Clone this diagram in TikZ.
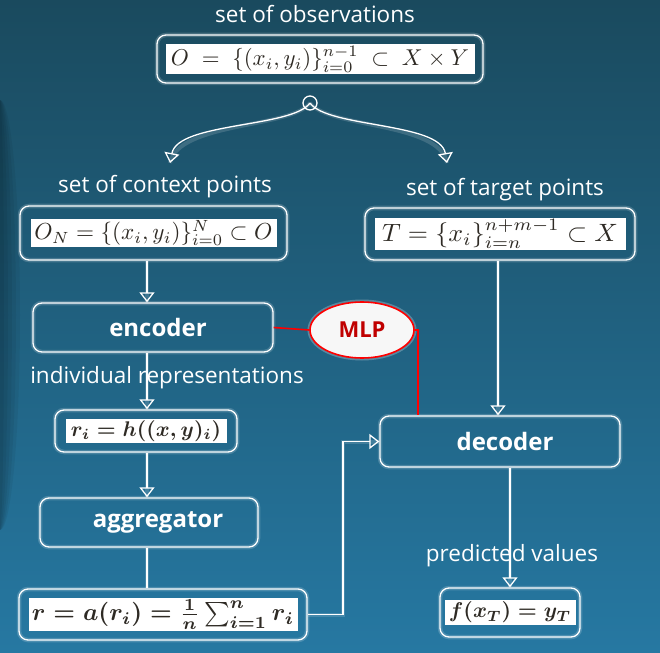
\documentclass[tikz,border=0pt]{standalone}
\usepackage[no-math]{fontspec}
\setmainfont{Open Sans}
\usepackage{graphicx}
\usetikzlibrary{arrows.meta,shapes.geometric}
\definecolor{bgtop}{HTML}{1A4A5E}
\definecolor{bgmid}{HTML}{1B5169}
\definecolor{bgbot}{HTML}{2678A2}
\definecolor{mlpred}{HTML}{C00000}
\definecolor{frm}{HTML}{2E2A24}
\newcommand{\wbox}[2]{{\setlength{\fboxsep}{1.5pt}\colorbox{white}{\makebox[#1]{\color{frm}#2}}}}
\tikzset{
  glowbox/.style={draw=white, line width=1.3pt, rounded corners=9pt, inner sep=0pt,
    preaction={draw=white, line width=4.5pt, opacity=0.18, rounded corners=9pt}},
  lbl/.style={text=white, font=\fontsize{22.5}{26}\selectfont},
  blbl/.style={text=white, font=\fontsize{24}{28}\selectfont\bfseries},
  conn/.style={draw=white, line width=1.3pt, -{Triangle[open, length=10pt, width=15pt, line width=1.3pt]},
    preaction={draw=white, line width=4pt, opacity=0.15, -}},
  plain/.style={draw=white, line width=1.3pt, preaction={draw=white, line width=4pt, opacity=0.15}},
  redl/.style={draw=red, line width=1.6pt}
}
\begin{document}
\begin{tikzpicture}[x=1pt,y=-1pt]
\useasboundingbox (0,0) rectangle (660,652);
\shade[top color=bgtop, middle color=bgmid, bottom color=bgbot] (0,0) rectangle (660,652);
\foreach \w in {4,8,...,20} \fill[black, opacity=0.055] (0,315) ellipse ({\w pt} and 215pt);

% column coordinates
\coordinate (colL) at (147,0);
\coordinate (colT) at (498,0);
\coordinate (colO) at (510,0);
\coordinate (colM) at (418,0);
\coordinate (colR) at (343,0);

% labels
\node[lbl] (lobs) at (315,14) {set of observations};
\node[lbl] (lctx) at (165,187) {set of context points};
\node[lbl] (ltgt) at (505,190) {set of target points};
\node[lbl] (lpred) at (512,556) {predicted values};

% boxes
\node[glowbox, minimum width=326pt, minimum height=48pt] (obs) at (320,59)
  {\wbox{306pt}{\resizebox{298pt}{!}{$O\;=\;\{(x_i,y_i)\}_{i=0}^{n-1}\;\subset\;X\times Y$}}};

\node[glowbox, minimum width=267pt, minimum height=54pt] (ctx) at (153.5,233)
  {\wbox{243pt}{\resizebox{238pt}{!}{$O_N=\{(x_i,y_i)\}_{i=0}^{N}\subset O$}}};

\node[glowbox, minimum width=270pt, minimum height=52pt] (tgt) at (500,234)
  {\wbox{248pt}{\resizebox*{236pt}{29pt}{$T=\{x_i\}_{i=n}^{n+m-1}\subset X$}}};

\node[glowbox, blbl, minimum width=240pt, minimum height=49pt] (enc) at (153,327.5) {\hspace{10pt}encoder};

\node[glowbox, minimum width=182pt, minimum height=42pt] (ri) at (146,431)
  {\wbox{158pt}{\resizebox{150pt}{!}{\boldmath$r_i=h((x,y)_i)$}}};

\node[glowbox, blbl, minimum width=218pt, minimum height=49pt] (agg) at (149,522.5) {\hspace{18pt}aggregator};

\node[glowbox, minimum width=288pt, minimum height=51pt] (rbox) at (163,614.5)
  {\wbox{266pt}{\resizebox{262pt}{!}{\boldmath$r=a(r_i)=\frac{1}{n}\sum_{i=1}^{n}r_i$}}};

\node[glowbox, blbl, minimum width=240pt, minimum height=51pt] (dec) at (500,441.5) {\hspace{10pt}decoder};

\node[glowbox, minimum width=140pt, minimum height=49pt] (out) at (510,612.5)
  {\wbox{128pt}{\resizebox{122pt}{!}{\boldmath$f(x_T)=y_T$}}};

% MLP
\node[ellipse, fill=white!94!gray, draw=red, line width=1.6pt, minimum width=104pt, minimum height=56pt,
  text=mlpred, font=\fontsize{22}{26}\selectfont\bfseries,
  preaction={draw=white, line width=5pt, opacity=0.25}] (mlp) at (362,330) {MLP};

% split from observations
\node[circle, draw=white, line width=1.3pt, minimum size=14pt, inner sep=0pt] (split) at (310,103) {};
\coordinate (tL) at (170,163);
\coordinate (tR) at (447,163);
\draw[conn] (split.center) .. controls (292,128) and (178,122) .. (tL);
\draw[conn] (split.center) .. controls (328,128) and (440,122) .. (tR);

% main chain
\draw[conn] (ctx.south -| colL) -- (enc.north -| colL);
\draw[conn] (enc.south -| colL) -- (ri.north -| colL);
\draw[conn] (ri.south -| colL) -- (agg.north -| colL);
\draw[plain] (agg.south -| colL) -- (rbox.north -| colL);
\draw[conn] (rbox.east) -- (rbox.east -| colR) -- (dec.west -| colR) -- (dec.west);
\draw[conn] (tgt.south -| colT) -- (dec.north -| colT);
\draw[conn] (dec.south -| colO) -- (out.north -| colO);

% MLP links
\draw[redl] (enc.east) -- (mlp.west);
\draw[redl] (mlp.east) -| (dec.north -| colM);

\node[lbl] (lind) at (167,378) {individual representations};
\end{tikzpicture}
\end{document}
